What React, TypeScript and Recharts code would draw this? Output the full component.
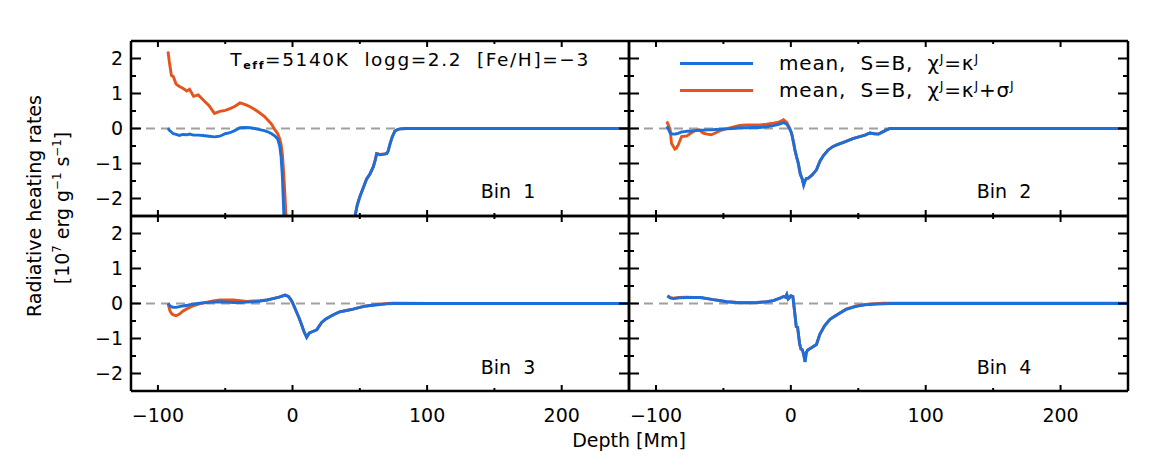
import React from "react";
import { LineChart, Line, XAxis, YAxis, ReferenceLine } from "recharts";

const BLUE = "#1b6fdc";
const ORANGE = "#e5541c";
const FONT = "'DejaVu Sans', Verdana, sans-serif";

const depthTicks = [-100, 0, 100, 200];
const depthAllTicks = [-100, -50, 0, 50, 100, 150, 200];
const rateTicks = [-2, -1, 0, 1, 2];
const rateAllTicks = [-2, -1.5, -1, -0.5, 0, 0.5, 1, 1.5, 2];

// Bin 1 (values below -2.5 run off the panel)
const bin1Depth = [-92.5, -91.5, -90, -88.5, -86.5, -84, -81.5, -78.5, -76.5, -73.5, -70, -66.5, -62, -58, -54, -50, -46.5, -43, -39, -35, -31.5, -28, -24.5, -21, -18, -15.5, -13, -11, -9.5, -8.5, -7.5, -6.5, -5.5, -4, 20, 44, 46.5, 48, 50, 52.5, 55, 57.5, 60, 61.5, 62.5, 65, 67.5, 70, 71, 72.5, 74, 76, 78, 80, 85, 100, 150, 250];
const bin1Blue = [0.01, -0.05, -0.1, -0.15, -0.17, -0.2, -0.17, -0.18, -0.16, -0.19, -0.19, -0.2, -0.22, -0.24, -0.22, -0.15, -0.12, -0.06, 0.02, 0.03, 0.02, 0.0, -0.03, -0.06, -0.1, -0.15, -0.22, -0.3, -0.5, -0.8, -1.4, -2.4, -3.4, -5, -8, -5, -2.5, -2.2, -1.95, -1.7, -1.45, -1.3, -1.1, -0.9, -0.72, -0.75, -0.74, -0.72, -0.65, -0.43, -0.25, -0.08, -0.03, -0.01, 0, 0, 0, 0];
const bin1Orange = [2.2, 1.9, 1.52, 1.48, 1.27, 1.2, 1.15, 1.07, 1.12, 0.92, 0.96, 0.82, 0.65, 0.43, 0.49, 0.52, 0.57, 0.63, 0.73, 0.68, 0.62, 0.54, 0.45, 0.35, 0.23, 0.12, -0.04, -0.15, -0.3, -0.45, -0.75, -1.3, -2.0, -3.2, -8, -5, -2.5, -2.2, -1.95, -1.7, -1.45, -1.3, -1.1, -0.9, -0.72, -0.74, -0.73, -0.71, -0.65, -0.43, -0.25, -0.08, -0.03, -0.01, 0, 0, 0, 0];

// Bin 2
const bin2Depth = [-92, -91, -89.5, -88.5, -87, -86, -85, -83.5, -81, -79, -77, -74, -71, -68, -65, -62, -59, -56, -52.5, -48, -43, -38, -33, -28, -23, -18, -13, -9, -5.5, -3, -1, 0.5, 2, 3, 4.5, 5.5, 7, 8.5, 9.5, 10.5, 11.5, 13, 16, 19, 21.5, 24, 27.5, 31, 34, 40, 46, 51, 55, 58.5, 62, 65, 68.5, 71, 73.5, 76, 80, 100, 250];
const bin2Blue = [0.06, 0.0, -0.13, -0.15, -0.16, -0.16, -0.15, -0.14, -0.1, -0.09, -0.08, -0.07, -0.06, -0.05, -0.05, -0.04, -0.04, -0.03, -0.02, -0.01, 0.0, 0.02, 0.02, 0.03, 0.03, 0.05, 0.08, 0.12, 0.17, 0.12, 0.0, -0.13, -0.4, -0.61, -0.85, -0.99, -1.3, -1.45, -1.62, -1.5, -1.43, -1.42, -1.32, -1.18, -0.94, -0.78, -0.62, -0.52, -0.47, -0.38, -0.29, -0.23, -0.19, -0.13, -0.15, -0.16, -0.09, -0.04, 0.0, 0, 0, 0, 0];
const bin2Orange = [0.2, 0.12, -0.03, -0.42, -0.52, -0.59, -0.57, -0.47, -0.23, -0.22, -0.21, -0.13, -0.06, -0.04, -0.13, -0.16, -0.18, -0.13, -0.06, -0.01, 0.04, 0.09, 0.1, 0.1, 0.1, 0.12, 0.15, 0.18, 0.25, 0.17, 0.02, -0.13, -0.4, -0.61, -0.85, -0.99, -1.3, -1.45, -1.6, -1.5, -1.43, -1.42, -1.32, -1.18, -0.94, -0.78, -0.62, -0.52, -0.47, -0.38, -0.29, -0.23, -0.19, -0.13, -0.15, -0.16, -0.09, -0.04, 0.0, 0, 0, 0, 0];

// Bin 3
const bin3Depth = [-92.5, -91, -89.5, -88, -86.5, -84, -81.5, -78, -74, -69, -64, -59, -54, -49, -44, -39, -34, -29, -24, -19, -14.5, -10, -5.5, -3, -1, 0.5, 2.5, 4.5, 6.5, 8.5, 10.5, 12.5, 15, 18, 21.5, 24.5, 28, 31.5, 35, 40, 45, 50, 55, 60, 65, 70, 75, 80, 100, 250];
const bin3Blue = [0, -0.07, -0.1, -0.11, -0.11, -0.09, -0.07, -0.05, -0.02, 0.01, 0.03, 0.04, 0.05, 0.04, 0.03, 0.03, 0.04, 0.05, 0.07, 0.1, 0.14, 0.18, 0.24, 0.2, 0.1, -0.02, -0.2, -0.38, -0.58, -0.8, -0.97, -0.84, -0.8, -0.75, -0.55, -0.45, -0.37, -0.3, -0.24, -0.2, -0.16, -0.11, -0.07, -0.05, -0.03, -0.01, 0, 0, 0, 0];
const bin3Orange = [0, -0.22, -0.3, -0.33, -0.35, -0.3, -0.22, -0.14, -0.07, -0.01, 0.03, 0.07, 0.1, 0.1, 0.1, 0.08, 0.06, 0.07, 0.08, 0.1, 0.14, 0.18, 0.24, 0.2, 0.1, -0.02, -0.2, -0.38, -0.58, -0.8, -0.96, -0.84, -0.8, -0.75, -0.55, -0.45, -0.37, -0.3, -0.24, -0.2, -0.16, -0.11, -0.07, -0.04, -0.02, 0, 0.01, 0.01, 0, 0];

// Bin 4
const bin4Depth = [-91.5, -89.5, -87, -83, -77, -72, -67, -62, -57.5, -52, -47.5, -40, -33, -25, -18, -13, -10.5, -8, -5.5, -4, -3, -2, -1, 0, 1.5, 3, 4, 5, 6.5, 7.5, 8.5, 9.5, 10.5, 11.5, 12.5, 15, 19, 21.5, 25, 29, 34, 41, 48.5, 55, 61, 68, 76, 100, 250];
const bin4Blue = [0.22, 0.16, 0.14, 0.16, 0.17, 0.17, 0.17, 0.14, 0.11, 0.08, 0.05, 0.03, 0.02, 0.03, 0.05, 0.08, 0.12, 0.15, 0.2, 0.18, 0.26, 0.13, 0.17, 0.22, 0.2, -0.3, -0.66, -0.68, -1.15, -1.3, -1.32, -1.45, -1.67, -1.4, -1.33, -1.27, -1.17, -0.88, -0.64, -0.45, -0.33, -0.17, -0.08, -0.04, -0.02, -0.01, 0, 0, 0];
const bin4Orange = [0.22, 0.17, 0.15, 0.17, 0.18, 0.17, 0.17, 0.14, 0.11, 0.08, 0.05, 0.03, 0.02, 0.03, 0.05, 0.08, 0.12, 0.15, 0.2, 0.18, 0.26, 0.13, 0.17, 0.22, 0.2, -0.3, -0.66, -0.68, -1.15, -1.3, -1.32, -1.45, -1.66, -1.4, -1.33, -1.27, -1.17, -0.88, -0.64, -0.45, -0.33, -0.16, -0.07, -0.03, -0.01, 0.01, 0.01, 0.01, 0.01];

const rows = (depth: number[], blue: number[], orange: number[]) =>
  depth.map((d, i) => ({ depth: d, blue: blue[i], orange: orange[i] }));

const minus = (v: number) => String(v).replace("-", "\u2212");

const PLOT_L = 131;
const PLOT_MID = 629;
const PLOT_R = 1128;
const PLOT_T = 41;
const PLOT_H = 175;
const X_DOM: [number, number] = [-120, 250];
const Y_DOM: [number, number] = [-2.5, 2.5];

// IDL style: ticks point inward on both opposite edges, labels only on outer panels
function XTick({ x, y, payload, showLabel }: any) {
  const major = depthTicks.includes(payload.value);
  const len = major ? 6 : 3;
  return (
    <g>
      <line x1={x} x2={x} y1={y} y2={y - len} stroke="#000" strokeWidth={2} />
      <line x1={x} x2={x} y1={y - PLOT_H} y2={y - PLOT_H + len} stroke="#000" strokeWidth={2} />
      {showLabel && major && (
        <text x={x} y={y + 17} dy="0.72em" textAnchor="middle" fontSize={19} fill="#000" fontFamily={FONT}>
          {minus(payload.value)}
        </text>
      )}
    </g>
  );
}

function YTick({ x, y, payload, showLabel, plotW }: any) {
  const major = rateTicks.includes(payload.value);
  const len = major ? 10 : 5;
  return (
    <g>
      <line x1={x} x2={x + len} y1={y} y2={y} stroke="#000" strokeWidth={2} />
      <line x1={x + plotW} x2={x + plotW - len} y1={y} y2={y} stroke="#000" strokeWidth={2} />
      {showLabel && major && (
        <text x={x - 8} y={y} dy="0.36em" textAnchor="end" fontSize={19} fill="#000" fontFamily={FONT}>
          {minus(payload.value)}
        </text>
      )}
    </g>
  );
}

type PanelProps = { data: any[]; col: number; row: number };

function Panel({ data, col, row }: PanelProps) {
  const left = col === 0 ? PLOT_L : PLOT_MID;
  const plotW = col === 0 ? PLOT_MID - PLOT_L : PLOT_R - PLOT_MID;
  const top = PLOT_T + row * PLOT_H;
  const padL = col === 0 ? 60 : 20;
  const padR = 20;
  const padT = 10;
  const padB = row === 1 ? 50 : 10;
  const frame = { stroke: "#000", strokeWidth: 2.5 };

  return (
    <div style={{ position: "absolute", left: left - padL, top: top - padT }}>
      <LineChart
        width={plotW + padL + padR}
        height={PLOT_H + padT + padB}
        data={data}
        margin={{ top: padT, right: padR, bottom: 0, left: 0 }}
      >
        <XAxis
          dataKey="depth"
          type="number"
          domain={X_DOM}
          allowDataOverflow
          ticks={depthAllTicks}
          interval={0}
          height={padB}
          tickSize={0}
          tickMargin={0}
          tickLine={false}
          axisLine={false}
          tick={(p: any) => <XTick {...p} showLabel={row === 1} />}
        />
        <YAxis
          type="number"
          domain={Y_DOM}
          allowDataOverflow
          ticks={rateAllTicks}
          interval={0}
          width={padL}
          tickSize={0}
          tickMargin={0}
          tickLine={false}
          axisLine={false}
          tick={(p: any) => <YTick {...p} showLabel={col === 0} plotW={plotW} />}
        />
        <ReferenceLine y={0} stroke="#a0a0a0" strokeWidth={2} strokeDasharray="9 6" />
        <Line dataKey="orange" stroke={ORANGE} strokeWidth={2.9} dot={false} isAnimationActive={false} type="linear" />
        <Line dataKey="blue" stroke={BLUE} strokeWidth={2.9} dot={false} isAnimationActive={false} type="linear" />
        <ReferenceLine y={Y_DOM[0]} {...frame} />
        <ReferenceLine y={Y_DOM[1]} {...frame} />
        <ReferenceLine x={X_DOM[0]} {...frame} />
        <ReferenceLine x={X_DOM[1]} {...frame} />
      </LineChart>
    </div>
  );
}

const sup = (t: string) => (
  <span style={{ fontSize: "0.62em", verticalAlign: "0.6em" }}>{t}</span>
);

function Label({ x, y, size = 19, children, rotate = false, spacing = 0 }: any) {
  return (
    <div
      style={{
        position: "absolute",
        left: x,
        top: y,
        transform: `translate(-50%, -50%)${rotate ? " rotate(-90deg)" : ""}`,
        whiteSpace: "pre",
        fontSize: size,
        lineHeight: 1,
        letterSpacing: spacing,
        color: "#000",
        fontFamily: FONT,
      }}
    >
      {children}
    </div>
  );
}

function LegendRow({ y, color, children }: any) {
  return (
    <>
      <div style={{ position: "absolute", left: 680, top: y - 1.5, width: 73, height: 3, background: color }} />
      <div
        style={{
          position: "absolute",
          left: 779,
          top: y,
          transform: "translateY(-50%)",
          whiteSpace: "pre",
          fontSize: 20,
          lineHeight: 1,
          letterSpacing: 0.8,
          fontFamily: FONT,
        }}
      >
        {children}
      </div>
    </>
  );
}

export default function App() {
  return (
    <div style={{ position: "absolute", left: 0, top: 0, width: 1166, height: 475, background: "#fff", fontFamily: FONT }}>
      <Panel data={rows(bin1Depth, bin1Blue, bin1Orange)} col={0} row={0} />
      <Panel data={rows(bin2Depth, bin2Blue, bin2Orange)} col={1} row={0} />
      <Panel data={rows(bin3Depth, bin3Blue, bin3Orange)} col={0} row={1} />
      <Panel data={rows(bin4Depth, bin4Blue, bin4Orange)} col={1} row={1} />

      <Label x={410} y={61} size={18.5} spacing={1.6}>
        T<span style={{ fontSize: "0.6em", fontWeight: "bold", verticalAlign: "-0.35em" }}>eff</span>
        {"=5140K  logg=2.2  [Fe/H]=\u22123"}
      </Label>

      <LegendRow y={63} color={BLUE}>
        {"mean,  S=B,  \u03c7"}{sup("J")}{"=\u03ba"}{sup("J")}
      </LegendRow>
      <LegendRow y={90} color={ORANGE}>
        {"mean,  S=B,  \u03c7"}{sup("J")}{"=\u03ba"}{sup("J")}{"+\u03c3"}{sup("J")}
      </LegendRow>

      <Label x={508} y={191}>{"Bin  1"}</Label>
      <Label x={1004} y={191}>{"Bin  2"}</Label>
      <Label x={508} y={367}>{"Bin  3"}</Label>
      <Label x={1004} y={367}>{"Bin  4"}</Label>

      <Label x={34} y={206} size={19} rotate>Radiative heating rates</Label>
      <Label x={62} y={208} size={19} rotate>
        {"[10"}{sup("7")}{" erg g"}{sup("\u22121")}{" s"}{sup("\u22121")}{"]"}
      </Label>

      <Label x={629} y={440}>Depth [Mm]</Label>
    </div>
  );
}
